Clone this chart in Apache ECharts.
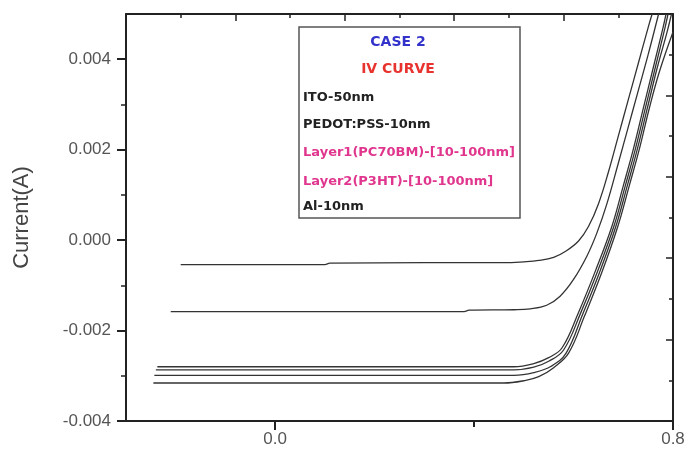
<!DOCTYPE html>
<html>
<head>
<meta charset="utf-8">
<script src="https://cdn.jsdelivr.net/npm/echarts@6/dist/echarts.min.js"></script>
<style>
  html, body { margin: 0; padding: 0; background: #fff; }
  #chart { width: 688px; height: 455px; }
</style>
</head>
<body>
<div id="chart"></div>
<script>
// IV curves, [voltage (V), current (A)]
const curveA = [[-0.19,-0.00054],[0.10,-0.00054],[0.11,-0.00051],[0.30,-0.0005],[0.46,-0.0005],[0.50,-0.00048],[0.53,-0.00045],[0.56,-0.00038],[0.585,-0.00024],[0.61,-0.00002],[0.63,0.0003],[0.65,0.0008],[0.67,0.0015],[0.69,0.0023],[0.71,0.0031],[0.73,0.0039],[0.75,0.0047],[0.758,0.005]];
const curveB = [[-0.21,-0.00158],[0.38,-0.00158],[0.39,-0.00155],[0.48,-0.00154],[0.513,-0.00152],[0.546,-0.00144],[0.573,-0.00124],[0.60,-0.00087],[0.627,-0.00035],[0.647,0.00016],[0.667,0.0008],[0.69,0.0017],[0.71,0.0025],[0.73,0.0033],[0.75,0.0041],[0.771,0.005]];
const curveC = [[-0.237,-0.0028],[0.48,-0.0028],[0.52,-0.00273],[0.55,-0.0026],[0.577,-0.00238],[0.61,-0.0016],[0.644,-0.00068],[0.677,0.0003],[0.70,0.0012],[0.72,0.002],[0.74,0.0029],[0.76,0.0038],[0.78,0.0047],[0.786,0.005]];
const curveD = [[-0.24,-0.00287],[0.48,-0.00287],[0.52,-0.00281],[0.55,-0.00268],[0.58,-0.00243],[0.614,-0.00162],[0.648,-0.0007],[0.681,0.0003],[0.704,0.0012],[0.724,0.002],[0.744,0.0029],[0.764,0.0038],[0.784,0.0047],[0.79,0.005]];
const curveE = [[-0.243,-0.00299],[0.48,-0.00299],[0.52,-0.00293],[0.555,-0.00279],[0.585,-0.0025],[0.618,-0.00165],[0.652,-0.00072],[0.685,0.0003],[0.708,0.0012],[0.728,0.002],[0.748,0.0029],[0.768,0.0038],[0.788,0.0046],[0.797,0.005]];
const curveF = [[-0.245,-0.00316],[0.46,-0.00316],[0.50,-0.00311],[0.53,-0.00302],[0.56,-0.00282],[0.59,-0.0025],[0.622,-0.00168],[0.656,-0.00074],[0.689,0.0003],[0.712,0.0012],[0.732,0.002],[0.752,0.0029],[0.772,0.0037],[0.8,0.0046]];
const curves = [curveA, curveB, curveC, curveD, curveE, curveF];

// ticks
const yMajorTicks = [-0.004, -0.002, 0, 0.002, 0.004];
const yMinorTicks = [-0.003, -0.001, 0.001, 0.003];
const xMajorTicks = [0, 0.8];
const xMinorTicks = [0.4];

// text box
const boxTitles = ['CASE 2', 'IV CURVE'];
const boxTitleColors = ['#3333cc', '#e8322e'];
const boxLines = ['ITO-50nm', 'PEDOT:PSS-10nm', 'Layer1(PC70BM)-[10-100nm]', 'Layer2(P3HT)-[10-100nm]', 'Al-10nm'];
const boxLineColors = ['#222', '#222', '#e0368e', '#e0368e', '#222'];

const axisColor = '#222';
const labelFont = 'Liberation Sans';

const chart = echarts.init(document.getElementById('chart'));

const titleY = [42, 69];
const lineY = [98, 125, 153, 182, 207];
const graphics = [{
  type: 'rect',
  shape: { x: 299, y: 27, width: 221, height: 191 },
  style: { fill: '#fff', stroke: '#555', lineWidth: 1.5 },
  z: 10
}];
boxTitles.forEach((t, i) => graphics.push({
  type: 'text', z: 11,
  style: { text: t, x: 398, y: titleY[i], align: 'center', verticalAlign: 'middle',
    fill: boxTitleColors[i], font: 'bold 14px "DejaVu Sans"' }
}));
boxLines.forEach((t, i) => graphics.push({
  type: 'text', z: 11,
  style: { text: t, x: 303, y: lineY[i], align: 'left', verticalAlign: 'middle',
    fill: boxLineColors[i], font: 'bold 13px "DejaVu Sans"' }
}));

const plainAxis = { show: false };

const option = {
  animation: false,
  backgroundColor: '#fff',
  grid: { left: 126, right: 15, top: 14, bottom: 34, outerBoundsMode: 'none' },
  xAxis: [
    {
      type: 'value', position: 'bottom', min: -0.3, max: 0.8,
      axisLine: { onZero: false, lineStyle: { color: axisColor, width: 2 } },
      axisTick: { customValues: xMajorTicks, length: 9, lineStyle: { color: axisColor, width: 2 } },
      axisLabel: { customValues: xMajorTicks, formatter: v => v.toFixed(1), fontSize: 17,
        color: '#555', fontFamily: labelFont, margin: 10 },
      splitLine: plainAxis
    },
    {
      type: 'value', position: 'bottom', min: -0.3, max: 0.8,
      axisLine: { show: false, onZero: false },
      axisTick: { customValues: xMinorTicks, length: 6, lineStyle: { color: axisColor, width: 2 } },
      axisLabel: { show: false },
      splitLine: plainAxis
    },
    {
      type: 'value', position: 'top', min: 0, max: 10, interval: 2,
      axisLine: { onZero: false, lineStyle: { color: axisColor, width: 2 } },
      axisTick: { inside: true, length: 7, lineStyle: { color: axisColor, width: 1.5 } },
      minorTick: { show: true, splitNumber: 2, length: 4, lineStyle: { color: axisColor, width: 1.5 } },
      axisLabel: { show: false },
      splitLine: plainAxis
    }
  ],
  yAxis: [
    {
      type: 'value', position: 'left', min: -0.004, max: 0.005,
      name: 'Current(A)', nameLocation: 'middle', nameGap: 93,
      nameTextStyle: { fontSize: 22, color: '#444', fontFamily: labelFont },
      axisLine: { onZero: false, lineStyle: { color: axisColor, width: 2 } },
      axisTick: { customValues: yMajorTicks, length: 9, lineStyle: { color: axisColor, width: 2 } },
      axisLabel: { customValues: yMajorTicks, formatter: v => v.toFixed(3), fontSize: 17,
        color: '#555', fontFamily: labelFont, margin: 15 },
      splitLine: plainAxis
    },
    {
      type: 'value', position: 'left', min: -0.004, max: 0.005,
      axisLine: { show: false, onZero: false },
      axisTick: { customValues: yMinorTicks, length: 5, lineStyle: { color: axisColor, width: 1.5 } },
      axisLabel: { show: false },
      splitLine: plainAxis
    },
    {
      type: 'value', position: 'right', min: 0, max: 10, interval: 2,
      axisLine: { onZero: false, lineStyle: { color: axisColor, width: 2 } },
      axisTick: { inside: true, length: 7, lineStyle: { color: axisColor, width: 1.5 } },
      minorTick: { show: true, splitNumber: 2, length: 4, lineStyle: { color: axisColor, width: 1.5 } },
      axisLabel: { show: false },
      splitLine: plainAxis
    }
  ],
  series: curves.map(d => ({
    type: 'line',
    xAxisIndex: 0,
    yAxisIndex: 0,
    data: d,
    showSymbol: false,
    smooth: 0.4,
    clip: true,
    lineStyle: { color: '#333', width: 1.3 }
  })),
  graphic: graphics
};

chart.setOption(option);
</script>
</body>
</html>
